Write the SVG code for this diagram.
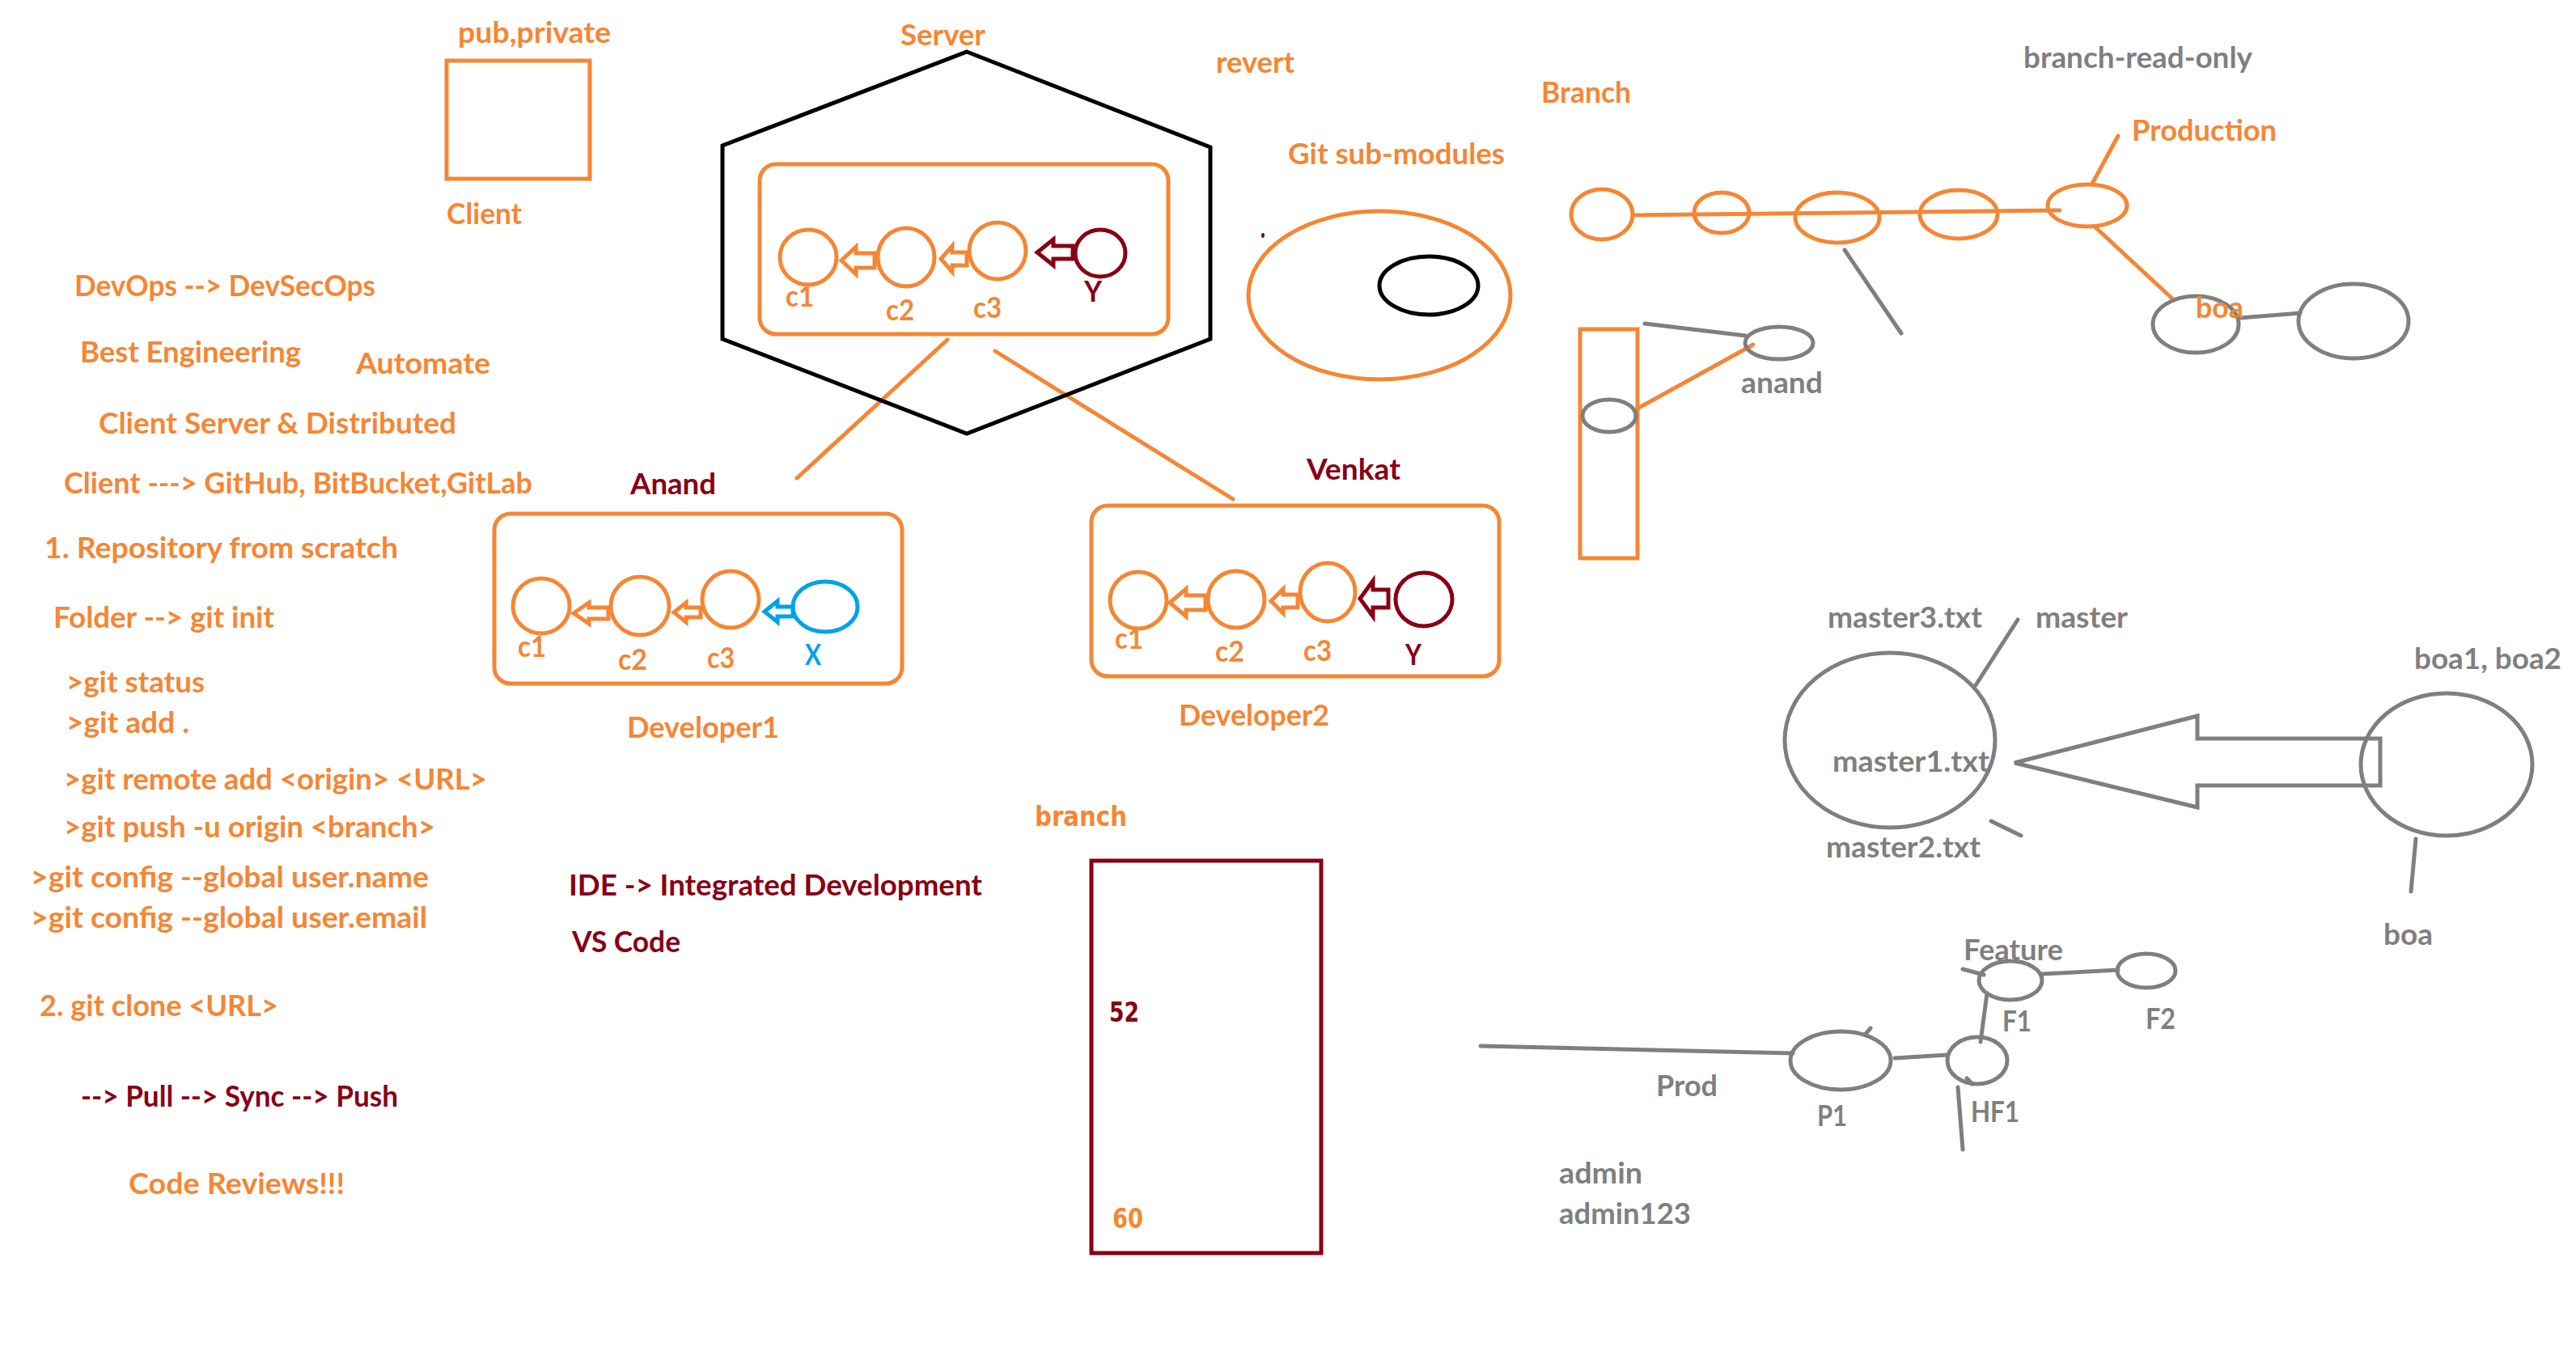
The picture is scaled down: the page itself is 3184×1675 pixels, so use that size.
<svg xmlns="http://www.w3.org/2000/svg" width="3184" height="1675" viewBox="0 0 3184 1675">
<style>
.t{font-family:Lato,"Liberation Sans",sans-serif;font-weight:700;font-size:36px}
.v{font-family:"DejaVu Sans",Verdana,sans-serif;font-weight:700;font-size:34px}
.o{fill:#F58634}.r{fill:#880015}.g{fill:#7F7F7F}.b{fill:#00A2E8}
.so{fill:none;stroke:#F58634;stroke-width:5}
.sr{fill:none;stroke:#880015;stroke-width:5}
.sg{fill:none;stroke:#7F7F7F;stroke-width:5}
.sb{fill:none;stroke:#00A2E8;stroke-width:5}
.sk{fill:none;stroke:#000;stroke-width:5}
.ln{stroke-linecap:round}
</style>
<rect width="3184" height="1675" fill="#fff"/>

<g id="connectors" class="ln">
  <line class="so" x1="1171" y1="420" x2="985" y2="591"/>
  <line class="so" x1="1230" y1="434" x2="1524" y2="617"/>
  <line class="so" x1="2018" y1="266" x2="2546" y2="260"/>
  <line class="so" x1="2586" y1="227" x2="2618" y2="168"/>
  <line class="so" x1="2590" y1="281" x2="2687" y2="371"/>
  <line class="sg" x1="2280" y1="309" x2="2350" y2="412"/>
  <line class="sg" x1="2769" y1="393" x2="2843" y2="387"/>
  <line class="so" x1="2024" y1="505" x2="2167" y2="426"/>
  <line class="sg" x1="2033" y1="400" x2="2158" y2="415"/>
  <line class="sg" x1="2494" y1="766" x2="2442" y2="847" stroke-width="4"/>
  <line class="sg" x1="2986" y1="1037" x2="2980" y2="1102" stroke-width="4"/>
  <line class="sg" x1="2461" y1="1015" x2="2498" y2="1033" stroke-width="3"/>
  <line class="sg" x1="2524" y1="1204" x2="2618" y2="1199"/>
  <line class="sg" x1="2456" y1="1228" x2="2448" y2="1288" stroke-width="4"/>
  <line class="sg" x1="1830" y1="1293" x2="2216" y2="1302"/>
  <line class="sg" x1="2342" y1="1308" x2="2407" y2="1304"/>
  <line class="sg" x1="2420" y1="1344" x2="2426" y2="1421" stroke-width="4"/>
  <line class="sg" x1="2426" y1="1198" x2="2452" y2="1205" stroke-width="3"/>
  <line class="sg" x1="2305" y1="1279" x2="2312" y2="1271" stroke-width="3"/>
  <line class="sg" x1="2431" y1="1333" x2="2438" y2="1340" stroke-width="3"/>
</g>

<g id="client">
  <rect class="so" x="552" y="75" width="177" height="146" stroke-width="6"/>
  <text class="t o" x="566" y="53" textLength="189" lengthAdjust="spacingAndGlyphs">pub,private</text>
  <text class="t o" x="552" y="277" textLength="93" lengthAdjust="spacingAndGlyphs">Client</text>
</g>

<g id="notes">
  <text class="t o" x="92" y="366" textLength="372" lengthAdjust="spacingAndGlyphs">DevOps --&gt; DevSecOps</text>
  <text class="t o" x="99" y="448" textLength="273" lengthAdjust="spacingAndGlyphs">Best Engineering</text>
  <text class="t o" x="440" y="462" textLength="166" lengthAdjust="spacingAndGlyphs">Automate</text>
  <text class="t o" x="122" y="536" textLength="442" lengthAdjust="spacingAndGlyphs">Client Server &amp; Distributed</text>
  <text class="t o" x="79" y="610" textLength="579" lengthAdjust="spacingAndGlyphs">Client ---&gt; GitHub, BitBucket,GitLab</text>
  <text class="t o" x="55" y="690" textLength="437" lengthAdjust="spacingAndGlyphs">1. Repository from scratch</text>
  <text class="t o" x="66" y="776" textLength="273" lengthAdjust="spacingAndGlyphs">Folder --&gt; git init</text>
  <text class="t o" x="82" y="856" textLength="171" lengthAdjust="spacingAndGlyphs">&gt;git status</text>
  <text class="t o" x="82" y="906" textLength="152" lengthAdjust="spacingAndGlyphs">&gt;git add .</text>
  <text class="t o" x="79" y="976" textLength="523" lengthAdjust="spacingAndGlyphs">&gt;git remote add &lt;origin&gt; &lt;URL&gt;</text>
  <text class="t o" x="79" y="1035" textLength="459" lengthAdjust="spacingAndGlyphs">&gt;git push -u origin &lt;branch&gt;</text>
  <text class="t o" x="38" y="1097" textLength="492" lengthAdjust="spacingAndGlyphs">&gt;git config --global user.name</text>
  <text class="t o" x="38" y="1147" textLength="490" lengthAdjust="spacingAndGlyphs">&gt;git config --global user.email</text>
  <text class="t o" x="49" y="1256" textLength="295" lengthAdjust="spacingAndGlyphs">2. git clone &lt;URL&gt;</text>
  <text class="t r" x="100" y="1368" textLength="392" lengthAdjust="spacingAndGlyphs">--&gt; Pull --&gt; Sync --&gt; Push</text>
  <text class="t o" x="159" y="1476" textLength="267" lengthAdjust="spacingAndGlyphs">Code Reviews!!!</text>
  <text class="t r" x="703" y="1107" textLength="511" lengthAdjust="spacingAndGlyphs">IDE -&gt; Integrated Development</text>
  <text class="t r" x="707" y="1177" textLength="134" lengthAdjust="spacingAndGlyphs">VS Code</text>
  <text class="t o" x="1503" y="90" textLength="97" lengthAdjust="spacingAndGlyphs">revert</text>
</g>

<g id="server">
  <polygon class="sk" points="1195,64 1496,182 1496,419 1195,536 893,419 893,180"/>
  <text class="t o" x="1113" y="56" textLength="105" lengthAdjust="spacingAndGlyphs">Server</text>
  <rect class="so" x="939" y="203" width="505" height="210" rx="20"/>
  <ellipse class="so" cx="999" cy="318" rx="35" ry="34" stroke-width="4"/>
  <ellipse class="so" cx="1120" cy="318" rx="35" ry="36" stroke-width="4"/>
  <ellipse class="so" cx="1233" cy="310" rx="35" ry="35" stroke-width="4"/>
  <ellipse class="sr" cx="1360" cy="313" rx="31" ry="29" stroke-width="4"/>
  <path class="so" stroke-width="4" d="M1040,322 L1058,305 L1058,313 L1081,313 L1081,331 L1058,331 L1058,339 Z"/>
  <path class="so" stroke-width="4" d="M1163,320 L1177,304 L1177,312 L1195,312 L1195,328 L1177,328 L1177,336 Z"/>
  <path class="sr" stroke-width="4" d="M1282,312 L1302,296 L1302,304 L1326,304 L1326,320 L1302,320 L1302,328 Z"/>
  <text class="t o" x="971" y="379" textLength="35" lengthAdjust="spacingAndGlyphs">c1</text>
  <text class="t o" x="1095" y="396" textLength="35" lengthAdjust="spacingAndGlyphs">c2</text>
  <text class="t o" x="1203" y="393" textLength="35" lengthAdjust="spacingAndGlyphs">c3</text>
  <text class="t r" x="1340" y="373" textLength="22" lengthAdjust="spacingAndGlyphs">Y</text>
</g>

<g id="developer1">
  <text class="t r" x="779" y="611" textLength="106" lengthAdjust="spacingAndGlyphs">Anand</text>
  <rect class="so" x="611" y="635" width="504" height="210" rx="20"/>
  <ellipse class="so" cx="669" cy="749" rx="35" ry="34" stroke-width="4"/>
  <ellipse class="so" cx="791" cy="749" rx="36" ry="36" stroke-width="4"/>
  <ellipse class="so" cx="903" cy="741" rx="35" ry="35" stroke-width="4"/>
  <ellipse class="sb" cx="1020" cy="750" rx="40" ry="31" stroke-width="4"/>
  <path class="so" stroke-width="4" d="M709,758 L728,745 L728,751 L752,751 L752,765 L728,765 L728,771 Z"/>
  <path class="so" stroke-width="4" d="M833,757 L848,745 L848,751 L866,751 L866,763 L848,763 L848,769 Z"/>
  <path class="sb" stroke-width="4" d="M945,756 L961,743 L961,750 L980,750 L980,762 L961,762 L961,769 Z"/>
  <text class="t o" x="640" y="812" textLength="35" lengthAdjust="spacingAndGlyphs">c1</text>
  <text class="t o" x="764" y="828" textLength="36" lengthAdjust="spacingAndGlyphs">c2</text>
  <text class="t o" x="874" y="826" textLength="34" lengthAdjust="spacingAndGlyphs">c3</text>
  <text class="t b" x="995" y="822" textLength="20" lengthAdjust="spacingAndGlyphs">X</text>
  <text class="t o" x="775" y="912" textLength="188" lengthAdjust="spacingAndGlyphs">Developer1</text>
</g>

<g id="developer2">
  <text class="t r" x="1615" y="593" textLength="116" lengthAdjust="spacingAndGlyphs">Venkat</text>
  <rect class="so" x="1349" y="625" width="504" height="211" rx="20"/>
  <ellipse class="so" cx="1407" cy="742" rx="35" ry="35" stroke-width="4"/>
  <ellipse class="so" cx="1528" cy="741" rx="35" ry="35" stroke-width="4"/>
  <ellipse class="so" cx="1641" cy="732" rx="34" ry="36" stroke-width="4"/>
  <ellipse class="sr" cx="1760" cy="741" rx="35" ry="33" stroke-width="4"/>
  <path class="so" stroke-width="4" d="M1446,745 L1466,728 L1466,736 L1490,736 L1490,754 L1466,754 L1466,762 Z"/>
  <path class="so" stroke-width="4" d="M1571,743 L1586,728 L1586,735 L1604,735 L1604,751 L1586,751 L1586,758 Z"/>
  <path class="sr" stroke-width="4" d="M1681,740 L1697,718 L1697,729 L1716,729 L1716,751 L1697,751 L1697,762 Z"/>
  <text class="t o" x="1378" y="802" textLength="35" lengthAdjust="spacingAndGlyphs">c1</text>
  <text class="t o" x="1502" y="818" textLength="36" lengthAdjust="spacingAndGlyphs">c2</text>
  <text class="t o" x="1611" y="817" textLength="35" lengthAdjust="spacingAndGlyphs">c3</text>
  <text class="t r" x="1737" y="822" textLength="20" lengthAdjust="spacingAndGlyphs">Y</text>
  <text class="t o" x="1457" y="897" textLength="186" lengthAdjust="spacingAndGlyphs">Developer2</text>
</g>

<g id="submodules">
  <text class="t o" x="1592" y="203" textLength="268" lengthAdjust="spacingAndGlyphs">Git sub-modules</text>
  <ellipse class="so" cx="1705" cy="365" rx="162" ry="104" stroke-width="4"/>
  <ellipse class="sk" cx="1766" cy="353" rx="61" ry="36" stroke-width="5"/>
  <ellipse cx="1561" cy="291" rx="2" ry="3" fill="#880015"/>
</g>

<g id="branch-chain">
  <text class="t o" x="1905" y="127" textLength="111" lengthAdjust="spacingAndGlyphs">Branch</text>
  <text class="t g" x="2501" y="84" textLength="283" lengthAdjust="spacingAndGlyphs">branch-read-only</text>
  <ellipse class="so" cx="1980" cy="265" rx="38" ry="31" stroke-width="4"/>
  <ellipse class="so" cx="2128" cy="263" rx="34" ry="25" stroke-width="4"/>
  <ellipse class="so" cx="2271" cy="269" rx="52" ry="31" stroke-width="4"/>
  <ellipse class="so" cx="2421" cy="265" rx="48" ry="30" stroke-width="4"/>
  <ellipse class="so" cx="2580" cy="254" rx="49" ry="26" stroke-width="4"/>
  <text class="t o" x="2635" y="174" textLength="179" lengthAdjust="spacingAndGlyphs">Production</text>
  <ellipse class="sg" cx="2714" cy="401" rx="53" ry="35" stroke-width="4"/>
  <text class="t o" x="2714" y="393" textLength="59" lengthAdjust="spacingAndGlyphs">boa</text>
  <ellipse class="sg" cx="2909" cy="397" rx="68" ry="46" stroke-width="4"/>
</g>

<g id="anand-branch">
  <rect class="so" x="1953" y="407" width="71" height="283" stroke-width="5"/>
  <ellipse class="sg" cx="1989" cy="514" rx="33" ry="20" stroke-width="4"/>
  <ellipse class="sg" cx="2199" cy="424" rx="42" ry="20" stroke-width="4"/>
  <text class="t g" x="2152" y="486" textLength="101" lengthAdjust="spacingAndGlyphs">anand</text>
</g>

<g id="merge">
  <text class="t g" x="2259" y="776" textLength="191" lengthAdjust="spacingAndGlyphs">master3.txt</text>
  <text class="t g" x="2516" y="776" textLength="114" lengthAdjust="spacingAndGlyphs">master</text>
  <ellipse class="sg" cx="2336" cy="915" rx="130" ry="108" stroke-width="4"/>
  <text class="t g" x="2265" y="954" textLength="194" lengthAdjust="spacingAndGlyphs">master1.txt</text>
  <text class="t g" x="2257" y="1060" textLength="191" lengthAdjust="spacingAndGlyphs">master2.txt</text>
  <polygon class="sg" stroke-width="4" points="2490,943 2716,885 2716,913 2942,913 2942,971 2716,971 2716,998"/>
  <ellipse class="sg" cx="3024" cy="945" rx="106" ry="88" stroke-width="4"/>
  <text class="t g" x="2984" y="827" textLength="182" lengthAdjust="spacingAndGlyphs">boa1, boa2</text>
  <text class="t g" x="2946" y="1168" textLength="61" lengthAdjust="spacingAndGlyphs">boa</text>
</g>

<g id="hotfix">
  <text class="t g" x="2427" y="1187" textLength="123" lengthAdjust="spacingAndGlyphs">Feature</text>
  <ellipse class="sg" cx="2485" cy="1212" rx="39" ry="24" stroke-width="4"/>
  <ellipse class="sg" cx="2653" cy="1200" rx="36" ry="21" stroke-width="4"/>
  <text class="t g" x="2475" y="1275" textLength="36" lengthAdjust="spacingAndGlyphs">F1</text>
  <text class="t g" x="2652" y="1272" textLength="37" lengthAdjust="spacingAndGlyphs">F2</text>
  <ellipse class="sg" cx="2275" cy="1311" rx="62" ry="36" stroke-width="4"/>
  <ellipse class="sg" cx="2444" cy="1311" rx="37" ry="29" stroke-width="4"/>
  <text class="t g" x="2047" y="1355" textLength="76" lengthAdjust="spacingAndGlyphs">Prod</text>
  <text class="t g" x="2246" y="1392" textLength="37" lengthAdjust="spacingAndGlyphs">P1</text>
  <text class="t g" x="2436" y="1387" textLength="60" lengthAdjust="spacingAndGlyphs">HF1</text>
  <text class="t g" x="1927" y="1463" textLength="103" lengthAdjust="spacingAndGlyphs">admin</text>
  <text class="t g" x="1927" y="1513" textLength="163" lengthAdjust="spacingAndGlyphs">admin123</text>
</g>

<g id="branch-box">
  <text class="v o" x="1279" y="1021" textLength="114" lengthAdjust="spacingAndGlyphs">branch</text>
  <rect class="sr" x="1349" y="1064" width="284" height="485" stroke-width="5"/>
  <text class="v r" x="1371" y="1263" textLength="37" lengthAdjust="spacingAndGlyphs">52</text>
  <text class="v o" x="1375" y="1518" textLength="38" lengthAdjust="spacingAndGlyphs">60</text>
</g>
</svg>
